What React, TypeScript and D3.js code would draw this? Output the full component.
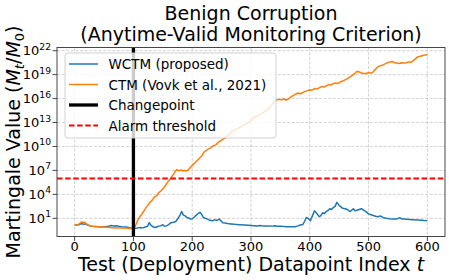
import React from "react";
import * as d3 from "d3";

const ctmT = [0,4,8,12,14,17,20,25,30,40,50,60,70,80,90,96,100,103,107,111,115,119,123,127,131,134,137,140,143,147,150,153,156,159,162,165,168,171,174,177,180,184,188,192,196,200,204,208,212,216,220,224,228,232,236,240,244,248,252,256,260,264,268,272,276,280,284,288,292,296,300,304,308,312,316,320,324,328,332,336,340,344,348,352,356,360,364,368,372,376,380,384,388,392,396,400,404,408,412,416,420,424,428,432,436,440,444,448,452,456,460,464,468,472,476,480,484,488,492,496,500,504,508,512,516,520,524,528,532,536,540,544,548,552,556,560,564,568,572,576,580,584,588,592,596,600];
const ctmLog10 = [0.15,0.18,0.3,0.55,0.45,0.5,0.3,0.1,0.0,-0.05,-0.1,-0.15,-0.2,-0.22,-0.25,-0.28,-0.35,0.0,0.7,1.2,1.6,2.05,2.5,2.9,3.2,3.5,3.75,3.85,4.2,4.45,4.7,4.95,5.3,5.6,5.85,6.2,6.5,6.85,7.1,6.95,7.05,6.95,7.0,6.95,7.3,7.6,7.9,8.2,8.5,8.8,9.3,9.5,9.7,9.85,10.1,10.2,10.5,10.7,10.9,11.05,11.3,11.6,11.9,12.05,12.2,12.4,12.5,12.7,12.85,13.05,13.3,13.6,13.75,13.85,14.0,14.25,14.4,14.6,14.9,15.3,15.6,15.85,15.9,15.85,15.95,15.8,16.0,16.2,16.4,16.55,16.7,16.6,16.75,16.9,17.0,17.1,17.05,17.25,17.2,17.35,17.5,17.45,17.6,17.75,17.7,17.9,17.95,17.9,18.1,18.2,18.35,18.5,18.7,18.9,19.1,19.4,19.35,19.2,19.15,19.15,19.25,19.2,19.35,19.7,20.0,20.1,20.2,20.35,20.5,20.6,20.65,20.5,20.45,20.4,20.5,20.45,20.5,20.6,20.55,20.75,21.0,21.25,21.3,21.4,21.45,21.5];

const wctmT = [0,4,8,12,15,18,22,26,30,40,50,58,62,66,70,75,80,88,95,100,104,108,112,116,120,124,127,130,134,138,142,146,150,153,156,160,164,168,172,176,180,182,185,188,191,194,197,200,204,207,210,213,216,219,222,226,230,234,238,242,246,249,252,256,260,266,272,280,290,300,310,316,320,330,336,340,345,350,360,370,375,380,385,388,391,394,398,401,405,408,411,414,416,419,422,425,428,431,434,437,440,443,446,449,452,456,460,464,468,471,474,477,480,484,488,492,496,500,504,508,512,516,520,525,530,536,542,548,553,556,560,565,575,585,595,600];
const wctmLog10 = [0.15,0.15,0.2,0.35,0.25,0.3,0.15,0.05,0.0,-0.05,-0.05,0.0,0.1,0.05,0.08,0.0,-0.05,-0.1,-0.2,-0.3,-0.25,-0.2,-0.15,-0.2,-0.1,0.0,0.45,0.1,-0.1,-0.15,0.0,0.05,0.2,0.0,0.05,0.2,0.45,0.5,0.6,1.0,1.5,1.85,1.4,1.3,1.1,1.05,0.9,0.95,1.2,1.4,1.6,1.75,1.5,1.1,1.0,0.9,0.75,0.7,0.8,0.75,0.9,0.7,0.45,0.4,0.35,0.3,0.25,0.2,0.15,0.1,0.05,0.1,0.05,0.05,0.02,0.06,0.0,0.02,-0.05,-0.07,-0.05,0.05,0.2,0.2,0.6,1.1,0.95,0.7,1.4,1.95,1.7,1.4,1.2,1.35,1.7,1.6,1.85,2.0,2.2,2.1,2.35,2.5,3.0,2.7,2.5,2.25,2.2,2.1,1.85,2.0,2.2,1.95,2.0,2.1,2.2,2.0,1.8,1.55,1.45,1.35,1.25,1.2,1.3,1.08,1.0,0.95,0.92,0.9,1.08,0.92,0.9,0.87,0.82,0.78,0.72,0.7];

const xTicks = [0, 100, 200, 300, 400, 500, 600];
const yTickExps = [1, 4, 7, 10, 13, 16, 19, 22];
const changepoint = 100;
const alarmThreshold = 1e6;
const legendLabels = ["WCTM (proposed)", "CTM (Vovk et al., 2021)", "Changepoint", "Alarm threshold"];

const W = 449, H = 280;
const L = 57, R = 445, T = 47.5, B = 236.5;
const FONT = "DejaVu Sans";

export default function App() {
  const x = d3.scaleLinear().domain([-30, 630]).range([L, R]);
  const y = d3.scaleLog().domain([Math.pow(10, -1.28), Math.pow(10, 22.4)]).range([B, T]);
  const line = d3.line<[number, number]>().x(d => x(d[0])).y(d => y(Math.pow(10, d[1])));
  const ctmPts = ctmT.map((t, i) => [t, ctmLog10[i]] as [number, number]);
  const wctmPts = wctmT.map((t, i) => [t, wctmLog10[i]] as [number, number]);
  const cx = (L + R) / 2;
  const cy = (T + B) / 2;
  const lx = 65, ly = 53, lw = 211, lh = 85;
  const rowY = [64, 84.5, 105, 125.5];
  return (
    <svg width={W} height={H} style={{ position: "absolute", left: 0, top: 0 }} fontFamily={FONT}>
      <rect x={0} y={0} width={W} height={H} fill="#fff" />
      <defs>
        <clipPath id="plotclip"><rect x={L} y={T} width={R - L} height={B - T} /></clipPath>
      </defs>
      {xTicks.map(t => (
        <line key={"gx" + t} x1={x(t)} x2={x(t)} y1={T} y2={B} stroke="#b0b0b0" strokeWidth={0.8} strokeDasharray="3,1.6" opacity={0.7} />
      ))}
      {yTickExps.map(e => (
        <line key={"gy" + e} x1={L} x2={R} y1={y(Math.pow(10, e))} y2={y(Math.pow(10, e))} stroke="#b0b0b0" strokeWidth={0.8} strokeDasharray="3,1.6" opacity={0.7} />
      ))}
      <g clipPath="url(#plotclip)">
        <path d={line(wctmPts) || ""} fill="none" stroke="#1f77b4" strokeWidth={1.5} strokeLinejoin="round" />
        <path d={line(ctmPts) || ""} fill="none" stroke="#ff7f0e" strokeWidth={1.5} strokeLinejoin="round" />
        <line x1={x(changepoint)} x2={x(changepoint)} y1={T} y2={B} stroke="#000" strokeWidth={3.3} />
        <line x1={L} x2={R} y1={y(alarmThreshold)} y2={y(alarmThreshold)} stroke="#ff0000" strokeWidth={2} strokeDasharray="5.5,2.6" />
      </g>
      <rect x={L} y={T} width={R - L} height={B - T} fill="none" stroke="#333" strokeWidth={0.9} />
      {xTicks.map(t => (
        <g key={"xt" + t}>
          <line x1={x(t)} x2={x(t)} y1={B} y2={B + 4.5} stroke="#333" strokeWidth={0.9} />
          <text x={x(t)} y={251} textAnchor="middle" fontSize={13} fill="#000">{t}</text>
        </g>
      ))}
      {yTickExps.map(e => (
        <g key={"yt" + e}>
          <line x1={L - 4.5} x2={L} y1={y(Math.pow(10, e))} y2={y(Math.pow(10, e))} stroke="#333" strokeWidth={0.9} />
          <text x={51} y={y(Math.pow(10, e)) + 4.5} textAnchor="end" fontSize={13} fill="#000">
            10<tspan fontSize={9.2} dy={-5.5}>{e}</tspan>
          </text>
        </g>
      ))}
      <rect x={lx} y={ly} width={lw} height={lh} rx={3} fill="#fff" fillOpacity={0.8} stroke="#cccccc" strokeWidth={0.9} />
      <line x1={69} x2={98} y1={rowY[0]} y2={rowY[0]} stroke="#1f77b4" strokeWidth={1.5} />
      <line x1={69} x2={98} y1={rowY[1]} y2={rowY[1]} stroke="#ff7f0e" strokeWidth={1.5} />
      <line x1={69} x2={98} y1={rowY[2]} y2={rowY[2]} stroke="#000" strokeWidth={3.3} />
      <line x1={69} x2={98} y1={rowY[3]} y2={rowY[3]} stroke="#ff0000" strokeWidth={2} strokeDasharray="5.5,2.6" />
      {legendLabels.map((s, i) => (
        <text key={s} x={108.5} y={rowY[i] + 5} fontSize={13.5} fill="#000">{s}</text>
      ))}
      <text x={cx} y={20} textAnchor="middle" fontSize={19} fill="#000">Benign Corruption</text>
      <text x={cx} y={41} textAnchor="middle" fontSize={19} fill="#000">(Anytime-Valid Monitoring Criterion)</text>
      <text x={cx} y={271} textAnchor="middle" fontSize={19} fill="#000">
        Test (Deployment) Datapoint Index <tspan fontStyle="italic">t</tspan>
      </text>
      <text transform={`translate(20,${cy}) rotate(-90)`} textAnchor="middle" fontSize={19} fill="#000">
        Martingale Value (<tspan fontStyle="italic">M</tspan><tspan fontStyle="italic" fontSize={13} dy={4}>t</tspan><tspan dy={-4}>/</tspan><tspan fontStyle="italic">M</tspan><tspan fontSize={13} dy={4}>0</tspan><tspan dy={-4}>)</tspan>
      </text>
    </svg>
  );
}
